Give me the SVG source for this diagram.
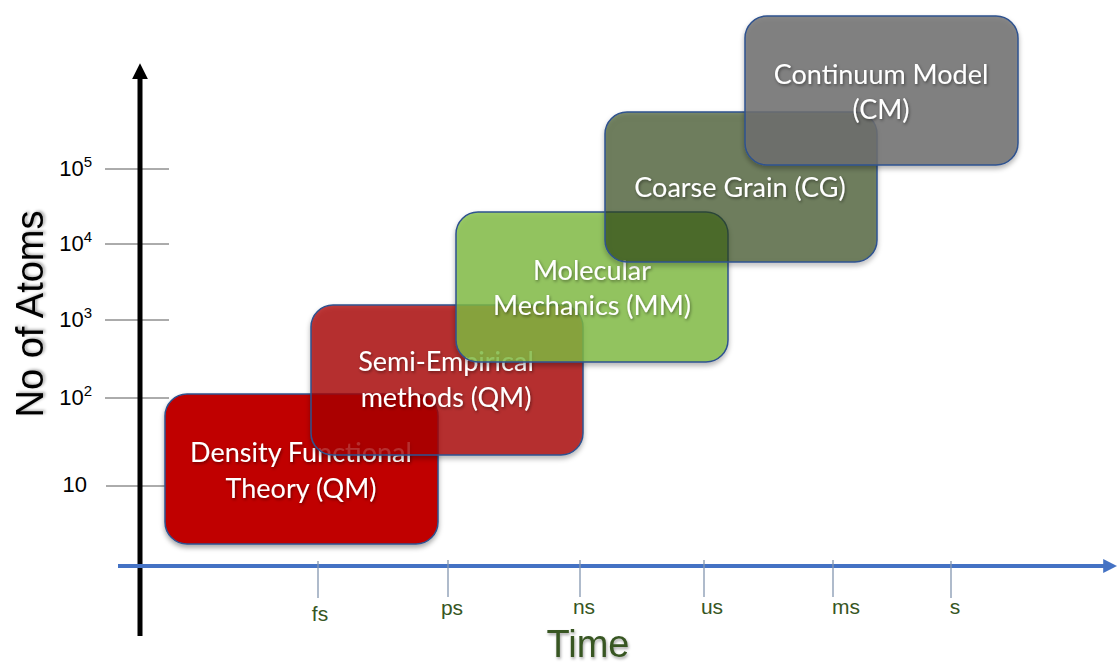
<svg xmlns="http://www.w3.org/2000/svg" width="1118" height="664" viewBox="0 0 1118 664">
<defs>
<filter id="boxShadow" x="-10%" y="-10%" width="120%" height="130%">
<feDropShadow dx="0" dy="3" stdDeviation="2.5" flood-color="#000" flood-opacity="0.35"/>
</filter>
<filter id="txtShadow" x="-10%" y="-30%" width="120%" height="160%">
<feDropShadow dx="1" dy="1.5" stdDeviation="1.5" flood-color="#000" flood-opacity="0.45"/>
</filter>
<filter id="axShadow" x="-20%" y="-20%" width="140%" height="140%">
<feDropShadow dx="1" dy="2" stdDeviation="1.5" flood-color="#000" flood-opacity="0.35"/>
</filter>
<marker id="arrBlack" viewBox="0 0 10 10" refX="2" refY="5" markerWidth="3.2" markerHeight="3.2" orient="auto" markerUnits="strokeWidth">
<path d="M0,0 L10,5 L0,10 Z" fill="#000"/>
</marker>
<marker id="arrBlue" viewBox="0 0 10 10" refX="2" refY="5" markerWidth="3.5" markerHeight="3.5" orient="auto" markerUnits="strokeWidth">
<path d="M0,0 L10,5 L0,10 Z" fill="#4472C4"/>
</marker>
<style>
.box{stroke:#2F528F;stroke-width:1.5;filter:url(#boxShadow)}
.lbl{font-family:Lato,"Open Sans",sans-serif;font-size:27px;fill:#fff;text-anchor:middle;filter:url(#txtShadow)}
.ytick{stroke:#595959;stroke-width:1}
.xtick{stroke:#8497B0;stroke-width:1.3}
.ylab{font-family:"Liberation Sans",Arial,sans-serif;font-size:22px;fill:#000;text-anchor:end}
.xlab{font-family:"Liberation Sans",Arial,sans-serif;font-size:21px;fill:#375623;text-anchor:middle}
</style>
</defs>
<rect width="1118" height="664" fill="#fff"/>

<g id="axes">
<line class="ytick" x1="105" y1="169" x2="169" y2="169"/>
<line class="ytick" x1="105" y1="244" x2="169" y2="244"/>
<line class="ytick" x1="105" y1="320" x2="169" y2="320"/>
<line class="ytick" x1="105" y1="398" x2="169" y2="398"/>
<line class="ytick" x1="106" y1="486" x2="169" y2="486"/>
<line x1="140" y1="636" x2="140" y2="76" stroke="#000" stroke-width="5" marker-end="url(#arrBlack)"/>
<line x1="118" y1="566" x2="1106" y2="566" stroke="#4472C4" stroke-width="4" marker-end="url(#arrBlue)"/>
<line class="xtick" x1="318" y1="561" x2="318" y2="598"/>
<line class="xtick" x1="448" y1="560" x2="448" y2="597"/>
<line class="xtick" x1="580" y1="560" x2="580" y2="597"/>
<line class="xtick" x1="704" y1="560" x2="704" y2="597"/>
<line class="xtick" x1="833" y1="560" x2="833" y2="597"/>
<line class="xtick" x1="951" y1="561" x2="951" y2="598"/>
</g>

<g id="y-labels">
<text class="ylab" x="92" y="176">10<tspan font-size="15" dy="-9">5</tspan></text>
<text class="ylab" x="92" y="251">10<tspan font-size="15" dy="-9">4</tspan></text>
<text class="ylab" x="92" y="327">10<tspan font-size="15" dy="-9">3</tspan></text>
<text class="ylab" x="92" y="405">10<tspan font-size="15" dy="-9">2</tspan></text>
<text class="ylab" x="87" y="492">10</text>
<text x="43" y="314" transform="rotate(-90 43 314)" font-family="'Liberation Sans',Arial,sans-serif" font-size="38" fill="#000" text-anchor="middle" filter="url(#axShadow)">No of Atoms</text>
</g>

<g id="x-labels">
<text class="xlab" x="320" y="621">fs</text>
<text class="xlab" x="452" y="615">ps</text>
<text class="xlab" x="584" y="614">ns</text>
<text class="xlab" x="712" y="614">us</text>
<text class="xlab" x="846" y="614">ms</text>
<text class="xlab" x="955" y="614">s</text>
<text x="588" y="657" font-family="'Liberation Sans',Arial,sans-serif" font-size="38" fill="#375623" text-anchor="middle" filter="url(#axShadow)">Time</text>
</g>

<g id="dft">
<rect class="box" x="165" y="394" width="273" height="150" rx="22" fill="#C00000"/>
<text class="lbl" x="301" y="462">Density Functional</text>
<text class="lbl" x="301" y="498">Theory (QM)</text>
</g>

<g id="semi-empirical">
<rect class="box" x="311" y="305" width="272" height="150" rx="22" fill="#AB0000" fill-opacity="0.75"/>
<text class="lbl" x="446" y="371">Semi-Empirical</text>
<text class="lbl" x="446" y="407">methods (QM)</text>
</g>

<g id="molecular-mechanics">
<rect class="box" x="456" y="212" width="272" height="150" rx="22" fill="#82BE44" fill-opacity="0.78"/>
<text class="lbl" x="592" y="280">Molecular</text>
<text class="lbl" x="592" y="315">Mechanics (MM)</text>
</g>

<g id="coarse-grain">
<rect class="box" x="605" y="112" width="272" height="150" rx="22" fill="#2B4416" fill-opacity="0.6"/>
<text class="lbl" x="740" y="197">Coarse Grain (CG)</text>
</g>

<g id="continuum-model">
<rect class="box" x="745" y="16" width="273" height="149" rx="22" fill="#707070" fill-opacity="0.82"/>
<text class="lbl" x="881" y="84">Continuum Model</text>
<text class="lbl" x="881" y="119">(CM)</text>
</g>
</svg>
